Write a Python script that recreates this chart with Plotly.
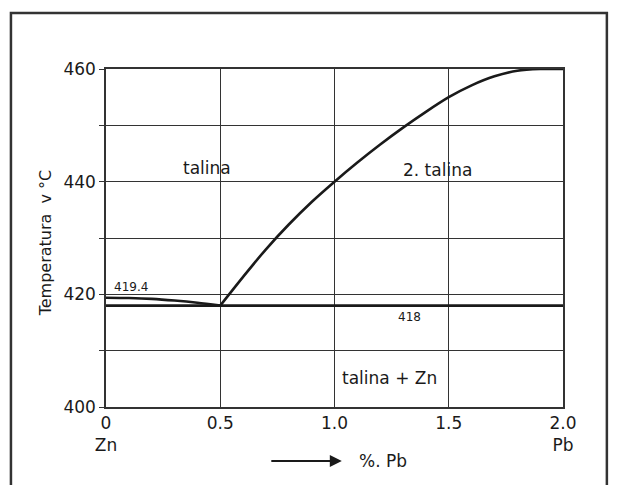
import plotly.graph_objects as go

# Data (Zn - Pb, zinc-rich side)
liq_left_x = [0.0, 0.1, 0.2, 0.3, 0.4, 0.5]
liq_left_t = [419.4, 419.35, 419.2, 418.9, 418.5, 418.0]

liq_right_x = [0.5, 0.6, 0.7, 0.8, 0.9, 1.0, 1.1, 1.2, 1.3, 1.4, 1.5, 1.6, 1.7, 1.8, 1.9, 2.0]
liq_right_t = [418.0, 423.1, 428.0, 432.4, 436.4, 440.0, 443.4, 446.6, 449.6, 452.4, 455.0, 457.1,
               458.7, 459.7, 460.0, 460.0]

eut_x = [0.0, 2.0]
eut_t = [418.0, 418.0]

x_ticks = [0, 0.5, 1.0, 1.5, 2.0]
x_tick_text = ["0<br>Zn", "0.5", "1.0", "1.5", "2.0<br>Pb"]
y_ticks = [400, 420, 440, 460]

labels_x = [0.44, 1.45, 1.24, 1.33, 0.11]
labels_t = [442.4, 442.0, 405.1, 416.0, 421.3]
labels_text = ["talina", "2. talina", "talina + Zn", "418", "419.4"]
labels_size = [17, 17, 17, 12, 12]

FONT = "DejaVu Sans"
INK = "#1a1a1a"

fig = go.Figure()
for xs, ts in [(liq_left_x, liq_left_t), (eut_x, eut_t), (liq_right_x, liq_right_t)]:
    fig.add_trace(go.Scatter(x=xs, y=ts, mode="lines",
                             line=dict(color=INK, width=2.6, shape="spline", smoothing=0.8),
                             showlegend=False, hoverinfo="skip"))

for lx, lt, tx, sz in zip(labels_x, labels_t, labels_text, labels_size):
    fig.add_annotation(x=lx, y=lt, text=tx, showarrow=False, font=dict(size=sz, color=INK, family=FONT))

# y-axis title
fig.add_annotation(xref="paper", yref="paper", x=-0.133, y=0.485, xanchor="center", yanchor="middle",
                   text="Temperatura  v °C", textangle=-90, showarrow=False,
                   font=dict(size=16, color=INK, family=FONT))
# x-axis title with arrow
fig.add_annotation(xref="paper", yref="paper", x=0.516, y=-0.160, axref="pixel", ayref="pixel",
                   ax=-72, ay=0, text="", showarrow=True, arrowhead=2, arrowsize=1.2,
                   arrowwidth=2, arrowcolor=INK)
fig.add_annotation(xref="paper", yref="paper", x=0.606, y=-0.160, xanchor="center", yanchor="middle",
                   text="%. Pb", showarrow=False, font=dict(size=17, color=INK, family=FONT))

# outer frame of the scanned figure
fig.add_shape(type="rect", xref="paper", yref="paper", x0=-0.208, x1=1.096, y0=-0.30, y1=1.166,
              line=dict(color="#333333", width=2.5))

fig.update_xaxes(range=[0, 2.0], tickvals=x_ticks, ticktext=x_tick_text,
                 showgrid=True, gridcolor="#333333", gridwidth=1,
                 showline=True, linecolor="#333333", linewidth=1.5, mirror=True,
                 ticks="", zeroline=False,
                 tickfont=dict(size=17, color=INK, family=FONT))
fig.update_yaxes(range=[400, 460], tickvals=y_ticks,
                 showgrid=True, gridcolor="#333333", gridwidth=1,
                 minor=dict(dtick=10, showgrid=True, gridcolor="#333333", gridwidth=1,
                            ticks="outside", ticklen=5, tickcolor="#333333"),
                 showline=True, linecolor="#333333", linewidth=1.5, mirror=True,
                 ticks="outside", ticklen=5, tickcolor="#333333", zeroline=False,
                 tickfont=dict(size=17, color=INK, family=FONT))

fig.update_layout(width=618, height=485, margin=dict(l=106, r=55, t=69, b=78),
                  plot_bgcolor="white", paper_bgcolor="white")

fig.write_html("out.html")
